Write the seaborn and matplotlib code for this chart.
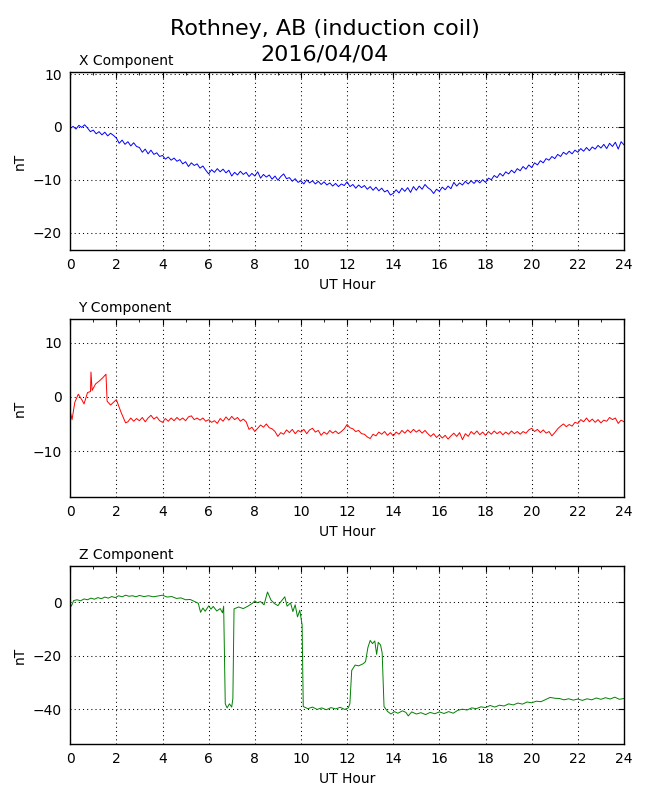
import pandas as pd
import matplotlib.pyplot as plt
import seaborn as sns
from matplotlib.ticker import MultipleLocator

# =========================================
# Values (UT hour, nT)
# =========================================

# X component, every 7.5 minutes
x_values = [
    -0.3, 0.1, -0.4, 0.3, -0.1, 0.4, -0.2, -0.9,
    -0.6, -1.3, -0.9, -1.5, -1.0, -1.7, -1.2, -1.6,
    -2.1, -3.1, -2.5, -3.3, -2.8, -3.6, -3.0, -3.7,
    -3.9, -4.8, -4.2, -5.1, -4.4, -5.2, -4.9, -5.6,
    -5.4, -6.1, -5.7, -6.3, -5.9, -6.5, -6.2, -7.0,
    -6.6, -7.5, -6.8, -7.3, -7.0, -7.8, -7.4, -8.2,
    -8.9, -8.1, -8.6, -7.9, -8.5, -8.0, -8.7, -8.2,
    -9.3, -8.6, -9.1, -8.4, -9.0, -8.6, -9.4, -8.8,
    -9.3, -8.5, -9.7, -9.0, -9.5, -9.1, -9.9, -9.3,
    -10.1, -9.4, -8.9, -9.8, -9.6, -10.3, -9.8, -10.5,
    -10.2, -10.8, -10.0, -10.6, -10.2, -10.8, -10.3, -10.9,
    -10.4, -11.0, -10.6, -11.2, -10.7, -11.3, -10.8, -11.1,
    -10.4, -11.3, -10.9, -11.6, -11.0, -11.5, -11.1, -11.8,
    -11.3, -12.0, -11.4, -12.1, -11.6, -12.3, -12.0, -12.9,
    -12.6, -11.9, -12.5, -11.6, -12.2, -11.5, -12.4, -11.3,
    -12.0, -11.2, -11.8, -10.9, -11.5, -11.9, -12.6, -11.8,
    -12.2, -11.4, -11.9, -11.2, -11.7, -10.5, -11.2, -10.6,
    -11.0, -10.3, -10.8, -10.2, -10.7, -10.1, -10.6, -10.0,
    -10.5, -9.7, -10.0, -9.2, -9.6, -8.8, -9.3, -8.5,
    -8.9, -8.2, -8.7, -7.9, -8.3, -7.5, -8.0, -7.2,
    -7.7, -6.8, -7.2, -6.4, -6.8, -6.0, -6.3, -5.6,
    -6.0, -5.2, -5.6, -4.8, -5.2, -4.6, -5.1, -4.4,
    -4.8, -4.1, -4.6, -3.9, -4.5, -3.8, -4.2, -3.5,
    -4.0, -3.3, -4.1, -3.1, -3.7, -2.9, -4.2, -2.8,
    -3.4,
]
x_hours = [i * 0.125 for i in range(len(x_values))]

# Y component: irregular early part, then every 7.5 minutes from 02:30
y_early_hours = [0, 0.08, 0.2, 0.35, 0.5, 0.6, 0.75, 0.88, 0.9, 0.95,
                 1.1, 1.25, 1.4, 1.55, 1.6, 1.75, 1.9, 2.0, 2.2, 2.4]
y_early_values = [-2.7, -4.2, -1.0, 0.5, -0.5, -1.3, 0.8, 1.0, 4.6, 1.2,
                  2.4, 2.9, 3.5, 4.2, -0.8, -1.5, -0.9, -0.5, -2.8, -4.8]
y_late_values = [
    -4.6, -3.9, -4.5, -4.0,
    -4.4, -3.8, -4.6, -3.9, -3.4, -4.1, -3.7, -4.4,
    -4.7, -4.0, -4.5, -3.9, -4.4, -3.8, -4.3, -3.9,
    -4.4, -3.7, -3.5, -4.2, -3.9, -4.3, -3.9, -4.5,
    -4.2, -4.7, -4.4, -4.9, -4.0, -4.5, -3.7, -4.3,
    -3.6, -4.2, -3.8, -4.5, -4.1, -4.6, -6.0, -5.6,
    -6.4, -5.8, -5.2, -5.6, -5.0, -5.7, -5.9, -6.4,
    -7.3, -6.6, -6.9, -6.1, -6.6, -6.0, -6.8, -6.2,
    -6.5, -6.0, -6.8, -6.1, -5.8, -6.5, -6.2, -7.1,
    -6.5, -6.9, -6.2, -6.7, -6.3, -6.8, -6.4, -5.9,
    -5.1, -5.7, -5.9, -6.4, -6.2, -6.8, -6.9, -7.4,
    -7.7, -6.9, -7.2, -6.5, -6.9, -6.4, -7.1, -6.6,
    -7.2, -6.5, -6.9, -6.2, -6.7, -6.1, -6.6, -6.0,
    -6.5, -6.1, -6.7, -6.2, -6.8, -7.3, -6.8, -7.5,
    -7.0, -7.6, -7.1, -7.8, -7.2, -6.7, -7.3, -6.6,
    -7.9, -6.8, -7.3, -6.4, -6.9, -6.3, -7.0, -6.5,
    -7.1, -6.4, -6.9, -6.3, -6.8, -6.4, -7.0, -6.5,
    -6.9, -6.3, -6.8, -6.4, -6.9, -6.4, -6.7, -6.1,
    -5.8, -6.4, -6.0, -6.6, -6.1, -6.7, -6.4, -7.2,
    -6.6, -5.9, -5.4, -5.0, -5.5, -5.1, -5.4, -4.7,
    -4.9, -4.2, -4.6, -3.9, -4.6, -4.1, -4.7, -4.2,
    -4.8, -4.3, -4.5, -3.8, -4.2, -3.9, -4.9, -4.3,
    -4.6,
]
y_late_hours = [2.5 + i * 0.125 for i in range(len(y_late_values))]
y_hours = y_early_hours + y_late_hours
y_values = y_early_values + y_late_values

# Z component, irregular sampling around the steps
z_hours = [
    0, 0.05, 0.15, 0.3, 0.45, 0.6, 0.75, 0.9, 1.05, 1.2,
    1.35, 1.5, 1.65, 1.8, 1.95, 2.1, 2.25, 2.4, 2.55, 2.7,
    2.85, 3.0, 3.2, 3.4, 3.6, 3.8, 4.0, 4.2, 4.4, 4.6,
    4.8, 5.0, 5.2, 5.4, 5.55, 5.65, 5.75, 5.85, 6.0, 6.1,
    6.2, 6.35, 6.5, 6.6, 6.65, 6.72, 6.8, 6.9, 7.0, 7.05,
    7.1, 7.3, 7.5, 7.7, 7.9, 8.0, 8.1, 8.25, 8.4, 8.55,
    8.7, 8.85, 9.0, 9.15, 9.3, 9.4, 9.55, 9.65, 9.75, 9.85,
    9.95, 10.05, 10.1, 10.3, 10.5, 10.7, 10.9, 11.1, 11.3, 11.5,
    11.7, 11.9, 12.05, 12.12, 12.2, 12.35, 12.5, 12.7, 12.8, 12.9,
    13.0, 13.1, 13.2, 13.28, 13.35, 13.45, 13.52, 13.6, 13.75, 13.9,
    14.05, 14.2, 14.4, 14.55, 14.65, 14.8, 15.0, 15.2, 15.4, 15.6,
    15.8, 16.0, 16.2, 16.4, 16.6, 16.8, 17.0, 17.2, 17.4, 17.6,
    17.8, 18.0, 18.2, 18.4, 18.6, 18.8, 19.0, 19.2, 19.4, 19.6,
    19.8, 20.0, 20.2, 20.4, 20.6, 20.8, 21.0, 21.2, 21.4, 21.6,
    21.8, 22.0, 22.2, 22.4, 22.6, 22.8, 23.0, 23.2, 23.4, 23.6,
    23.8, 24.0,
]
z_values = [
    -0.6, -1.5, 0.6, 0.9, 0.5, 1.2, 0.9, 1.5, 1.1, 1.7,
    1.3, 1.9, 1.5, 2.1, 1.7, 2.4, 2.0, 2.6, 2.2, 2.4,
    2.0, 2.5, 2.1, 2.4, 2.0, 2.3, 2.6, 1.9, 2.1, 1.4,
    1.6, 0.9, 1.0, 0.2, -0.4, -3.8, -2.2, -3.4, -1.4, -2.6,
    -1.6, -3.3, -2.4, -4.0, -1.5, -38.0, -39.5, -38.0, -39.2, -36.0,
    -2.5, -1.8, -2.4, -1.5, -0.4, 0.5, -0.2, 0.2, -1.0, 3.8,
    0.8, -0.5, -1.3, 0.4, 2.0, -1.5, -0.3, -3.5, -1.0, -5.5,
    -3.0, -8.5, -39.0, -39.8, -39.2, -40.1, -39.5, -40.2, -39.4, -39.9,
    -39.3, -40.1, -39.5, -38.0, -25.5, -23.5, -23.8, -23.0, -22.2, -17.0,
    -14.3, -15.5, -14.5, -19.5, -15.0, -16.0, -19.0, -39.0, -40.8, -41.8,
    -40.9, -41.5, -40.6, -41.2, -42.5, -41.0, -41.8, -41.3, -42.0, -41.2,
    -41.7, -41.0, -41.6, -40.9, -41.5, -40.4, -40.0, -40.3, -39.5, -39.8,
    -39.1, -39.4, -38.6, -39.2, -38.5, -38.8, -38.0, -38.4, -37.7, -38.1,
    -37.3, -37.6, -37.0, -37.2, -36.4, -35.6, -35.9, -36.0, -36.5, -36.1,
    -36.6, -36.2, -36.7, -36.1, -36.5, -35.8, -36.3, -35.7, -36.2, -35.5,
    -36.3, -36.0,
]

components = [
    ("X Component", x_hours, x_values, "blue", (-23.3, 10.4)),
    ("Y Component", y_hours, y_values, "red", (-18.5, 14.4)),
    ("Z Component", z_hours, z_values, "green", (-53.0, 13.5)),
]

# =========================================
# Plot
# =========================================
sns.set_style("white")
plt.rcParams["font.family"] = ["DejaVu Sans"]
plt.rcParams["text.color"] = "black"
plt.rcParams["axes.labelcolor"] = "black"

fig, axes = plt.subplots(3, 1, figsize=(6.5, 8), dpi=100)
fig.subplots_adjust(left=0.108, right=0.96, top=0.91, bottom=0.07, hspace=0.388)

for ax, (name, hours, values, color, ylim) in zip(axes, components):
    df = pd.DataFrame({"hour": hours, "nT": values})
    sns.lineplot(data=df, x="hour", y="nT", color=color, linewidth=0.7,
                 estimator=None, ax=ax)
    ax.set_xlim(0, 24)
    ax.set_ylim(*ylim)
    ax.xaxis.set_major_locator(MultipleLocator(2))
    ax.xaxis.set_minor_locator(MultipleLocator(1))
    ax.tick_params(which="both", direction="in", top=True, right=True,
                   labelsize=10, colors="black")
    ax.tick_params(which="major", length=4, width=0.8, pad=6)
    ax.tick_params(which="minor", length=2, width=0.6)
    ax.grid(True, which="major", linestyle=(0, (1.0, 3.0)), color="black",
            linewidth=0.75)
    for spine in ax.spines.values():
        spine.set_color("black")
        spine.set_linewidth(1.0)
    ax.set_xlabel("UT Hour", fontsize=10)
    ax.set_ylabel("nT", fontsize=10)
    ax.text(0.015, 1.022, name, transform=ax.transAxes, fontsize=10,
            ha="left", va="bottom")

fig.suptitle("Rothney, AB (induction coil)\n2016/04/04", fontsize=16,
             y=0.976, va="top", linespacing=1.3)

fig.savefig("out.png", dpi=100)
